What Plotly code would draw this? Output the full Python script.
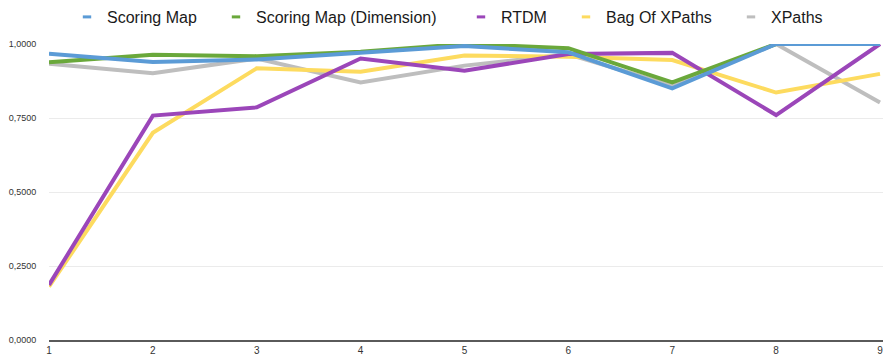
import plotly.graph_objects as go

x_vals = [1, 2, 3, 4, 5, 6, 7, 8, 9]
scoring_map = [0.967, 0.939, 0.948, 0.972, 0.993, 0.972, 0.850, 1.000, 1.000]
scoring_map_dim = [0.938, 0.964, 0.959, 0.974, 1.000, 0.986, 0.870, 1.000, 1.000]
rtdm = [0.186, 0.758, 0.786, 0.951, 0.910, 0.966, 0.970, 0.760, 1.000]
bag_of_xpaths = [0.180, 0.700, 0.918, 0.906, 0.961, 0.957, 0.946, 0.836, 0.899]
xpaths = [0.933, 0.901, 0.951, 0.870, 0.927, 0.965, 0.860, 1.000, 0.802]

series_names = ["Scoring Map", "Scoring Map (Dimension)", "RTDM", "Bag Of XPaths", "XPaths"]
series_values = [scoring_map, scoring_map_dim, rtdm, bag_of_xpaths, xpaths]
series_colors = ["#5B9BD6", "#6AA83B", "#9B46B9", "#FDDB5F", "#BEBEBE"]

y_ticks = [0, 0.25, 0.5, 0.75, 1.0]

# legend entry symbol centres (px) across the top
legend_centres = [87, 236, 481, 586, 751]

fig = go.Figure()

# draw in reverse so the first series sits on top
for name, vals, col in reversed(list(zip(series_names, series_values, series_colors))):
    fig.add_trace(go.Scatter(
        x=x_vals, y=vals, mode="lines", name=name, showlegend=False,
        line=dict(color=col, width=4), cliponaxis=False, hoverinfo="skip",
    ))

legend_layouts = {}
for i, (name, col, cx) in enumerate(zip(series_names, series_colors, legend_centres)):
    key = "legend" if i == 0 else f"legend{i + 1}"
    fig.add_trace(go.Scatter(
        x=[None], y=[None], mode="markers", name=name, showlegend=True,
        legend=key,
        marker=dict(symbol="line-ew", size=6, line=dict(width=3, color=col)),
    ))
    legend_layouts[key] = dict(
        orientation="h", xref="container", yref="container",
        x=(cx - 20) / 883, xanchor="left", y=1 - 17 / 359, yanchor="middle",
        font=dict(size=16, color="#1a1a1a"), itemwidth=30,
        bgcolor="rgba(0,0,0,0)", borderwidth=0,
    )

fig.update_layout(
    width=883, height=359,
    margin=dict(l=49, r=0, t=44, b=19, autoexpand=False),
    paper_bgcolor="white", plot_bgcolor="white",
    separators=",.",
    font=dict(family="Liberation Sans, Arial, sans-serif", color="#333333"),
    xaxis=dict(
        range=[1, 9.029], tickvals=x_vals, ticktext=[str(v) for v in x_vals],
        showgrid=False, zeroline=False, showline=True, linecolor="#5a5a5a", linewidth=2,
        ticks="", tickfont=dict(size=10, color="#333333"), fixedrange=True,
        ticklabeloverflow="allow",
    ),
    yaxis=dict(
        range=[0, 1], tickvals=y_ticks, tickformat=".4f",
        showgrid=True, gridcolor="#EBEBEB", gridwidth=1, zeroline=False,
        showline=False, ticks="outside", ticklen=10, tickcolor="rgba(0,0,0,0)",
        tickfont=dict(size=9, color="#333333"), fixedrange=True,
    ),
    **legend_layouts,
)

fig.write_html(
    "out.html",
    config={"displayModeBar": False},
    post_script="document.body.style.margin='0';document.body.style.overflow='hidden';",
)
